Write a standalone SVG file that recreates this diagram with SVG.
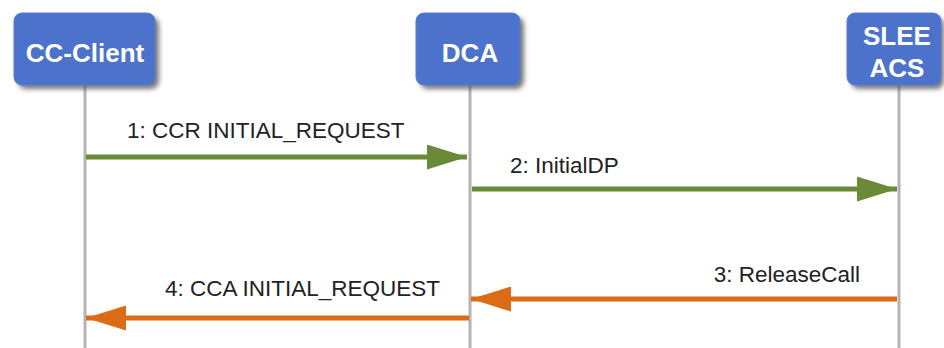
<svg xmlns="http://www.w3.org/2000/svg" width="944" height="348" viewBox="0 0 944 348">
<defs>
<filter id="sh" x="-20%" y="-20%" width="150%" height="150%">
<feGaussianBlur stdDeviation="2.5"/>
</filter>
<marker id="ag" markerWidth="8" markerHeight="5" refX="8" refY="2.5" orient="auto" markerUnits="strokeWidth">
<path d="M0,0 L8,2.5 L0,5 Z" fill="#6b8a37"/>
</marker>
<marker id="ao" markerWidth="8" markerHeight="5" refX="8" refY="2.5" orient="auto" markerUnits="strokeWidth">
<path d="M0,0 L8,2.5 L0,5 Z" fill="#dc6b18"/>
</marker>
</defs>
<style>
.life{stroke:#b3b3b3;stroke-width:3;fill:none}
.shadow{fill:#555;opacity:0.8;filter:url(#sh)}
.box{fill:#4c72cb;stroke:#5a7fd3;stroke-width:1}
.nt{font-family:"Liberation Sans",Arial,sans-serif;font-weight:bold;font-size:26px;fill:#fff;text-anchor:middle}
.lbl{font-family:"Liberation Sans",Arial,sans-serif;font-size:22.5px;fill:#222}
.g{stroke:#6b8a37;stroke-width:5;fill:none;marker-end:url(#ag)}
.o{stroke:#dc6b18;stroke-width:5;fill:none;marker-end:url(#ao)}
</style>
<rect width="944" height="348" fill="#fff"/>
<g id="lifelines">
<line class="life" x1="85" y1="85" x2="85" y2="348"/>
<line class="life" x1="470" y1="85" x2="470" y2="348"/>
<line class="life" x1="899" y1="85" x2="899" y2="348"/>
</g>
<g id="cc-client">
<rect class="shadow" x="18" y="17" width="141" height="72" rx="8"/>
<rect class="box" x="14" y="13" width="141" height="72" rx="8"/>
<text class="nt" x="85" y="62">CC-Client</text>
</g>
<g id="dca">
<rect class="shadow" x="420" y="17" width="104" height="72" rx="8"/>
<rect class="box" x="416" y="13" width="104" height="72" rx="8"/>
<text class="nt" x="470" y="62">DCA</text>
</g>
<g id="slee-acs">
<rect class="shadow" x="851" y="17" width="93" height="72" rx="8"/>
<rect class="box" x="847" y="13" width="94" height="72" rx="8"/>
<text class="nt" x="897" y="45">SLEE</text>
<text class="nt" x="897" y="77">ACS</text>
</g>
<g id="connectors">
<line class="g" x1="86" y1="157" x2="467" y2="157"/>
<text class="lbl" x="127" y="138">1: CCR INITIAL_REQUEST</text>
<line class="g" x1="472" y1="189" x2="897" y2="189"/>
<text class="lbl" x="510" y="173">2: InitialDP</text>
<line class="o" x1="897" y1="299" x2="471" y2="299"/>
<text class="lbl" x="860" y="282" text-anchor="end">3: ReleaseCall</text>
<line class="o" x1="469" y1="318" x2="86" y2="318"/>
<text class="lbl" x="440" y="296" text-anchor="end">4: CCA INITIAL_REQUEST</text>
</g>
</svg>
